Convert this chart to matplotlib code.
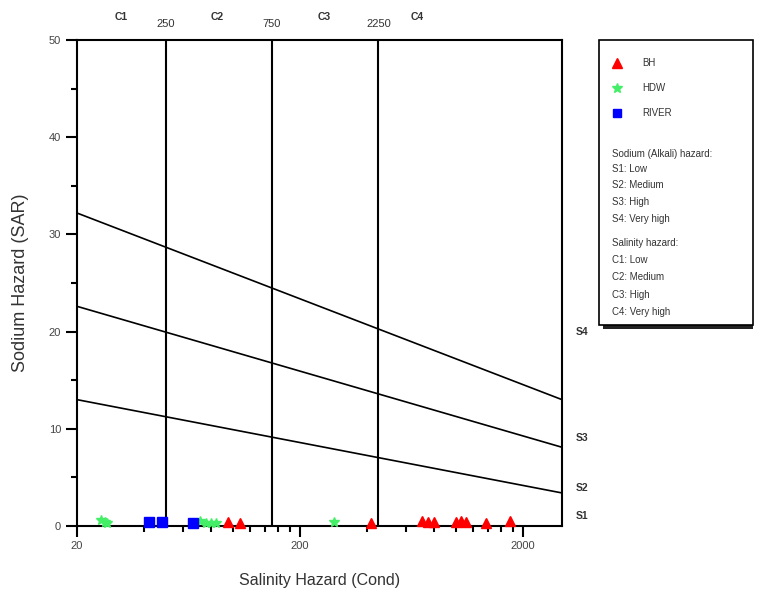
import matplotlib
matplotlib.use('Agg')
import matplotlib.pyplot as plt
from matplotlib.lines import Line2D
from matplotlib.patches import Rectangle
from matplotlib.ticker import FixedLocator, NullFormatter

plt.rcParams['font.family'] = ['Liberation Sans', 'DejaVu Sans']

# salinity class boundaries (vertical lines) and their top labels
class_bounds = [50, 150, 450]
class_bound_labels = ['250', '750', '2250']
class_names = ['C1', 'C2', 'C3', 'C4']
class_name_x = [31.7, 84.7, 256, 670]

# sodium hazard boundaries: SAR at left (x=20) and right (x=3000) edges
sar_x = [20, 3000]
sar_s12 = [13.0, 3.4]
sar_s23 = [22.6, 8.1]
sar_s34 = [32.2, 13.0]
s_labels = ['S1', 'S2', 'S3', 'S4']
s_label_y = [1.0, 3.9, 9.05, 20.0]

# samples: conductivity and SAR
bh_cond = [95, 107.5, 416, 704, 750, 798, 1002, 1056, 1112, 1365, 1750]
bh_sar = [0.4, 0.3, 0.3, 0.5, 0.4, 0.4, 0.4, 0.5, 0.4, 0.3, 0.5]
hdw_cond = [25.6, 26.7, 27.4, 71, 76, 80, 84, 284]
hdw_sar = [0.6, 0.4, 0.3, 0.5, 0.3, 0.3, 0.3, 0.4]
river_cond = [42, 48, 66]
river_sar = [0.4, 0.4, 0.3]

fig = plt.figure(figsize=(7.59, 5.91), dpi=100)
ax = fig.add_axes([77 / 759, 65 / 591, 485 / 759, 486 / 591])

ax.set_xscale('log')
ax.set_xlim(20, 3000)
ax.set_ylim(0, 50)

for sp in ax.spines.values():
    sp.set_linewidth(1.5)

ax.xaxis.set_major_locator(FixedLocator([20, 200, 2000]))
ax.set_xticklabels(['20', '200', '2000'])
minor = [40, 60, 80, 100, 120, 140, 160, 180, 400, 600, 800, 1000, 1200, 1400, 1600, 1800]
ax.xaxis.set_minor_locator(FixedLocator(minor))
ax.xaxis.set_minor_formatter(NullFormatter())
ax.set_yticks([0, 10, 20, 30, 40, 50])
ax.set_yticks([5, 15, 25, 35, 45], minor=True)
ax.tick_params(which='major', length=8, width=1.5, direction='out',
               labelsize=8, labelcolor='#444444')
ax.tick_params(which='minor', length=4.5, width=1.5, direction='out')
ax.tick_params(axis='x', which='major', pad=3)

for xb in class_bounds:
    ax.axvline(xb, color='black', lw=1.5)

for ys in (sar_s12, sar_s23, sar_s34):
    ax.plot(sar_x, ys, color='black', lw=1.2)

xt = ax.get_xaxis_transform()
for xb, lab in zip(class_bounds, class_bound_labels):
    ax.text(xb, 1.033, lab, transform=xt, ha='center', va='center',
            fontsize=8, color='#333333')
for xc, lab in zip(class_name_x, class_names):
    ax.text(xc, 1.047, lab, transform=xt, ha='center', va='center',
            fontsize=7.5, color='#333333', fontweight='bold')

yt = ax.get_yaxis_transform()
for ys, lab in zip(s_label_y, s_labels):
    ax.text(1.029, ys, lab, transform=yt, ha='left', va='center',
            fontsize=7.5, color='#333333', fontweight='bold')

red = '#ff0000'
green = '#44ee66'
blue = '#0000ff'
ax.plot(hdw_cond, hdw_sar, ls='none', marker='*', ms=7, color=green, clip_on=False, zorder=5)
ax.plot(river_cond, river_sar, ls='none', marker='s', ms=6.5, color=blue, clip_on=False, zorder=5)
ax.plot(bh_cond, bh_sar, ls='none', marker='^', ms=7, color=red, clip_on=False, zorder=5)

ax.set_xlabel('Salinity Hazard (Cond)', fontsize=11.5, color='#333333', labelpad=16)
ax.set_ylabel('Sodium Hazard (SAR)', fontsize=13, color='#333333', labelpad=14)

# legend box drawn in figure pixels
W, H = 759, 591
def fx(px):
    return px / W
def fy(py):
    return 1 - py / H

fig.add_artist(Rectangle((fx(603), fy(329)), fx(753) - fx(603), fy(44) - fy(329),
                         transform=fig.transFigure, facecolor='#222222', edgecolor='none'))
fig.add_artist(Rectangle((fx(599), fy(325)), fx(753) - fx(599), fy(40) - fy(325),
                         transform=fig.transFigure, facecolor='white', edgecolor='black', lw=1.2))

entries = [('BH', '^', red, 7), ('HDW', '*', green, 7), ('RIVER', 's', blue, 6)]
for i, (name, mk, col, ms) in enumerate(entries):
    y = 63 + i * 25
    fig.add_artist(Line2D([fx(617)], [fy(y)], marker=mk, color=col, ms=ms, ls='none',
                          transform=fig.transFigure))
    fig.text(fx(642), fy(y), name, fontsize=7, color='#333333', va='center', ha='left')

legend_lines = [
    ('Sodium (Alkali) hazard:', 154),
    ('S1: Low', 169), ('S2: Medium', 185), ('S3: High', 202), ('S4: Very high', 219),
    ('Salinity hazard:', 243),
    ('C1: Low', 260), ('C2: Medium', 277), ('C3: High', 295), ('C4: Very high', 312),
]
for txt, y in legend_lines:
    fig.text(fx(612), fy(y), txt, fontsize=7, color='#333333', va='center', ha='left')

fig.savefig('out.png', dpi=100)
